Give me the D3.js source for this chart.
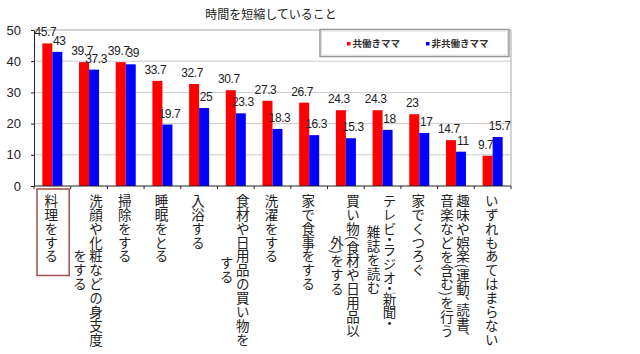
<!DOCTYPE html>
<html>
<head>
<meta charset="utf-8">
<script src="https://cdn.jsdelivr.net/npm/d3@7"></script>
<style>
  body { margin: 0; background: #fff; }
  text { font-family: Arial, "Liberation Sans", sans-serif; }
  .jp { font-family: "Noto Sans CJK JP", sans-serif; }
</style>
</head>
<body>
<div id="chart"></div>
<script>
// 時間を短縮していること
const chartTitle = "時間を短縮していること";
const seriesNames = ["共働きママ", "非共働きママ"];
const seriesColors = ["#ff0000", "#0000ff"];

// tick labels, one entry per line (wrapped like the original)
const categories = [
  ["料理をする"],
  ["洗顔や化粧などの身支度", "をする"],
  ["掃除をする"],
  ["睡眠をとる"],
  ["入浴する"],
  ["食材や日用品の買い物を", "する"],
  ["洗濯をする"],
  ["家で食事をする"],
  ["買い物(食材や日用品以", "外)をする"],
  ["テレビ・ラジオ・新聞・", "雑誌を読む"],
  ["家でくつろぐ"],
  ["趣味や娯楽(運動、読書、", "音楽などを含む)を行う"],
  ["いずれもあてはまらない"]
];
const workingMoms = [45.7, 39.7, 39.7, 33.7, 32.7, 30.7, 27.3, 26.7, 24.3, 24.3, 23, 14.7, 9.7];
const nonWorkingMoms = [43, 37.3, 39, 19.7, 25, 23.3, 18.3, 16.3, 15.3, 18, 17, 11, 15.7];
const yTicks = [0, 10, 20, 30, 40, 50];

const W = 640, H = 354;
const plot = { left: 34, right: 511, top: 30, bottom: 186 };

const data = categories.map((c, i) => ({
  key: c.join(""),
  lines: c,
  values: [workingMoms[i], nonWorkingMoms[i]]
}));

const svg = d3.select("#chart").append("svg")
  .attr("width", W).attr("height", H);

const x = d3.scaleBand()
  .domain(data.map(d => d.key))
  .range([plot.left, plot.right]);

const bw = 10;
const xSub = d3.scaleBand()
  .domain([0, 1])
  .range([x.bandwidth() / 2 - bw, x.bandwidth() / 2 + bw]);

const y = d3.scaleLinear().domain([0, 50]).range([plot.bottom, plot.top]);

// title
svg.append("text")
  .attr("class", "jp")
  .attr("x", 271).attr("y", 19)
  .attr("text-anchor", "middle")
  .style("font-size", "12px")
  .attr("fill", "#222")
  .text(chartTitle);

// gridlines
svg.append("g")
  .selectAll("line")
  .data(yTicks.filter(t => t > 0 && t < 50))
  .join("line")
  .attr("x1", plot.left).attr("x2", plot.right)
  .attr("y1", d => y(d)).attr("y2", d => y(d))
  .attr("stroke", "#cccccc");

// plot frame (top + right)
svg.append("path")
  .attr("d", `M${plot.left},${y(50)}H${plot.right}V${plot.bottom}`)
  .attr("fill", "none")
  .attr("stroke", "#a8a8a8");

// bars
const groups = svg.append("g")
  .selectAll("g")
  .data(data)
  .join("g")
  .attr("transform", d => `translate(${x(d.key)},0)`);

groups.selectAll("rect")
  .data(d => d.values)
  .join("rect")
  .attr("x", (v, i) => xSub(i))
  .attr("width", bw)
  .attr("y", v => y(v))
  .attr("height", v => y(0) - y(v))
  .attr("fill", (v, i) => seriesColors[i]);

// value labels (red ones nudged left, blue ones right, like the original)
groups.selectAll("text")
  .data(d => d.values)
  .join("text")
  .attr("x", (v, i) => xSub(i) + bw / 2 + (i === 0 ? -2 : 2))
  .attr("y", v => y(v) - 7)
  .attr("text-anchor", "middle")
  .style("font-size", "12px")
  .style("letter-spacing", "-0.4px")
  .attr("fill", "#222")
  .text(v => v);

// y axis
const yAxis = svg.append("g")
  .attr("transform", `translate(${plot.left},0)`)
  .call(d3.axisLeft(y).tickValues(yTicks).tickSizeInner(3).tickSizeOuter(0).tickPadding(10));
yAxis.select(".domain").attr("stroke", "#222");
yAxis.selectAll(".tick line").attr("stroke", "#222");
yAxis.selectAll(".tick text")
  .style("font-size", "13px")
  .style("font-family", "Arial, 'Liberation Sans', sans-serif")
  .attr("fill", "#222");

// x axis line + ticks at band boundaries
const xAxis = svg.append("g");
xAxis.append("line")
  .attr("x1", plot.left).attr("x2", plot.right)
  .attr("y1", y(0)).attr("y2", y(0))
  .attr("stroke", "#222");
xAxis.selectAll(".xt")
  .data(data.map(d => x(d.key)).concat([plot.right]))
  .join("line")
  .attr("class", "xt")
  .attr("x1", d => d).attr("x2", d => d)
  .attr("y1", y(0)).attr("y2", y(0) + 3)
  .attr("stroke", "#222");

// vertical category labels
const labelTop = 194;
const step = 13.9;
const colGap = 16;
const labels = svg.append("g")
  .selectAll("g")
  .data(data)
  .join("g")
  .attr("transform", d => `translate(${x(d.key) + x.bandwidth() / 2 - 1},0)`);

labels.each(function(d) {
  const n = d.lines.length;
  const texts = d3.select(this).selectAll("text")
    .data(d.lines)
    .join("text")
    .attr("class", "jp")
    .attr("x", (l, i) => (n - 1) / 2 * colGap - i * colGap)
    .attr("text-anchor", "middle")
    .style("writing-mode", "vertical-rl")
    .style("font-size", "13.5px")
    .style("letter-spacing", "0.4px")
    .style("font-feature-settings", "'vhal' 1")
    .attr("fill", "#222")
    .text(l => l);
  // block is top aligned, each column centred inside it
  const maxLen = d3.max(texts.nodes(), t => t.getComputedTextLength());
  texts.attr("y", labelTop + maxLen / 2);
});

// highlight box around the first category
const first = data[0];
const firstLen = labels.filter((d, i) => i === 0).select("text").node().getComputedTextLength();
svg.append("rect")
  .attr("x", x(first.key) + 3)
  .attr("y", labelTop - 5)
  .attr("width", x.bandwidth() - 4.5)
  .attr("height", firstLen + 17)
  .attr("fill", "none")
  .attr("stroke", "#a0504a")
  .attr("stroke-width", 1.5);

// legend
const lg = svg.append("g");
lg.append("rect")
  .attr("x", 320).attr("y", 29.5).attr("width", 189).attr("height", 27)
  .attr("fill", "#fff").attr("stroke", "#999").attr("stroke-width", 1.5);
lg.append("rect")
  .attr("x", 321.5).attr("y", 31).attr("width", 186).attr("height", 24)
  .attr("fill", "none").attr("stroke", "#dcdcdc");

const legendX = [347, 426];
const items = lg.selectAll(".item")
  .data(seriesNames)
  .join("g")
  .attr("class", "item")
  .attr("transform", (d, i) => `translate(${legendX[i]},43.5)`);
items.append("rect")
  .attr("x", 0).attr("y", -1.5).attr("width", 3.5).attr("height", 3.5)
  .attr("fill", (d, i) => seriesColors[i]);
items.append("text")
  .attr("class", "jp")
  .attr("x", 5.5).attr("y", 3.5)
  .style("font-size", "9.5px")
  .style("font-weight", "bold")
  .attr("fill", "#333")
  .text(d => d);
</script>
</body>
</html>
